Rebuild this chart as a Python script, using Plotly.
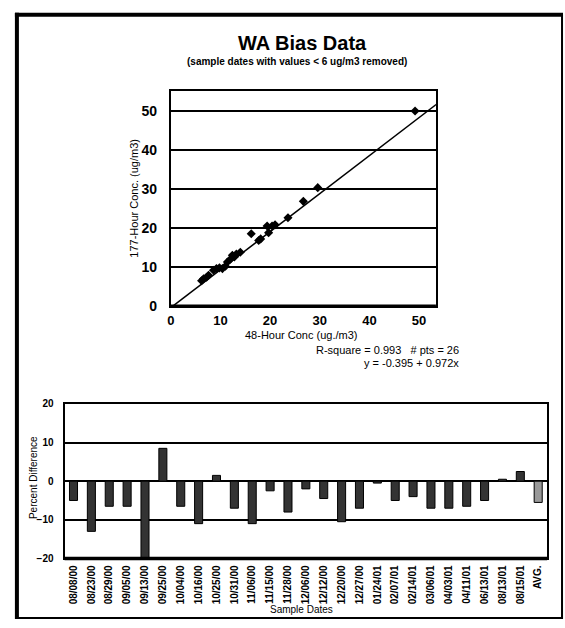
import plotly.graph_objects as go

W, H = 565, 628

# 48-hour vs 177-hour concentrations (ug/m3)
conc_48h = [6.2, 6.6, 7.2, 7.6, 8.6, 9.2, 9.8, 10.4, 11.0, 11.4, 12.0, 12.4, 12.8,
            13.2, 14.0, 16.2, 17.7, 18.1, 19.4, 19.7, 20.4, 21.0, 23.6, 26.7, 29.6, 49.2]
conc_177h = [6.5, 7.0, 7.4, 7.9, 9.2, 9.6, 9.8, 9.6, 10.2, 11.3, 12.0, 13.0, 12.6,
             13.3, 13.8, 18.5, 16.8, 17.2, 20.5, 18.8, 20.5, 20.8, 22.6, 26.8, 30.3, 49.9]

# Regression fit
fit_intercept = -0.395
fit_slope = 0.972
fit_x = [0.4, 54.5]

# Percent difference per sample date
sample_dates = ["08/08/00", "08/23/00", "08/29/00", "09/05/00", "09/13/00", "09/25/00",
                "10/04/00", "10/16/00", "10/25/00", "10/31/00", "11/06/00", "11/15/00",
                "11/28/00", "12/06/00", "12/12/00", "12/20/00", "12/27/00", "01/24/01",
                "02/07/01", "02/14/01", "03/06/01", "04/03/01", "04/11/01", "06/13/01",
                "08/13/01", "08/15/01", "AVG."]
pct_diff = [-5.0, -13.0, -6.5, -6.5, -20.0, 8.5, -6.5, -11.0, 1.5, -7.0, -11.0, -2.5,
            -8.0, -2.0, -4.5, -10.5, -7.0, -0.5, -5.0, -4.0, -7.0, -7.0, -6.5, -5.0,
            0.5, 2.5, -5.5]

FONT = "Liberation Sans, Arial, sans-serif"

def px(x):
    return x / W

def py(y):
    return 1 - y / H

fig = go.Figure()

fig.add_trace(go.Scatter(
    x=conc_48h, y=conc_177h, mode="markers",
    marker=dict(symbol="diamond", size=7, color="black"),
    xaxis="x", yaxis="y", showlegend=False, cliponaxis=False))

fig.add_trace(go.Scatter(
    x=fit_x, y=[fit_intercept + fit_slope * v for v in fit_x], mode="lines",
    line=dict(color="black", width=1.5),
    xaxis="x", yaxis="y", showlegend=False))

bar_colors = ["#333333"] * (len(sample_dates) - 1) + ["#999999"]
fig.add_trace(go.Bar(
    x=sample_dates, y=pct_diff, width=0.45,
    marker=dict(color=bar_colors, line=dict(color="black", width=1)),
    xaxis="x2", yaxis="y2", showlegend=False))

sc_x0, sc_x1, sc_y0, sc_y1 = 168, 435, 307, 87
br_x0, br_x1, br_y0, br_y1 = 61, 547, 565, 407

fig.update_layout(
    width=W, height=H, margin=dict(l=0, r=0, t=0, b=0),
    paper_bgcolor="white", plot_bgcolor="white",
    font=dict(family=FONT, color="black"),
    xaxis=dict(domain=[px(sc_x0), px(sc_x1)], range=[0, 53.4],
               tickvals=[0, 10, 20, 30, 40, 50], showgrid=False, zeroline=False,
               showline=True, mirror=True, linecolor="black", linewidth=2,
               ticks="", ticklabelstandoff=1,
               tickfont=dict(size=13, family=FONT, weight="bold"),
               anchor="y"),
    yaxis=dict(domain=[py(sc_y0), py(sc_y1)], range=[0, 55],
               tickvals=[0, 10, 20, 30, 40, 50], showgrid=True, gridcolor="black",
               gridwidth=2, zeroline=False,
               showline=True, mirror=True, linecolor="black", linewidth=2,
               ticks="", ticklabelstandoff=9,
               tickfont=dict(size=14, family=FONT, weight="bold"),
               anchor="x"),
    xaxis2=dict(domain=[px(br_x0), px(br_x1)], type="category",
                showgrid=False, zeroline=False,
                showline=True, mirror=True, linecolor="black", linewidth=2,
                ticks="", tickangle=-90, ticklabelstandoff=1,
                tickfont=dict(size=10, family=FONT, weight="bold"),
                anchor="y2"),
    yaxis2=dict(domain=[py(br_y0), py(br_y1)], range=[-20, 20],
                tickvals=[-20, -10, 0, 10, 20], showgrid=True, gridcolor="black",
                gridwidth=2, zeroline=True, zerolinecolor="black", zerolinewidth=2,
                showline=True, mirror=True, linecolor="black", linewidth=2,
                ticks="", ticklabelstandoff=7,
                tickfont=dict(size=10, family=FONT, weight="bold"),
                anchor="x2"),
)

shapes = [
    # heavier bottom axis lines
    dict(type="line", xref="paper", yref="paper", x0=px(sc_x0), x1=px(sc_x1),
         y0=py(sc_y0), y1=py(sc_y0), line=dict(color="black", width=3.5)),
    dict(type="line", xref="paper", yref="paper", x0=px(br_x0), x1=px(br_x1),
         y0=py(br_y0), y1=py(br_y0), line=dict(color="black", width=3.5)),
    # page frame
    dict(type="line", xref="paper", yref="paper", x0=px(13), x1=px(13),
         y0=py(7), y1=py(627), line=dict(color="black", width=4)),
    dict(type="line", xref="paper", yref="paper", x0=px(11), x1=px(563),
         y0=py(9), y1=py(9), line=dict(color="black", width=4)),
    dict(type="line", xref="paper", yref="paper", x0=px(562), x1=px(562),
         y0=py(9), y1=py(627), line=dict(color="black", width=2)),
    dict(type="line", xref="paper", yref="paper", x0=px(13), x1=px(563),
         y0=py(626), y1=py(626), line=dict(color="black", width=2)),
]
fig.update_layout(shapes=shapes)

def label(text, x, y, size, xanchor="center", angle=0):
    return dict(text=text, x=px(x), y=py(y), xref="paper", yref="paper",
                showarrow=False, font=dict(size=size, family=FONT),
                xanchor=xanchor, yanchor="middle", textangle=angle)

annotations = [
    label("<b>WA Bias Data</b>", 301, 38, 20),
    label("<b>(sample dates with values < 6 ug/m3 removed)</b>", 295, 57, 10),
    label("177-Hour Conc. (ug/m3)", 131, 197, 11, angle=-90),
    label("48-Hour Conc (ug./m3)", 300, 337, 11),
    label("R-square = %.3f   # pts = %d" % (0.993, len(conc_48h)), 460, 352, 11, "right"),
    label("y = %.3f + %.3fx" % (fit_intercept, fit_slope), 460, 365, 11, "right"),
    label("Percent Difference", 29, 482, 10, angle=-90),
    label("Sample Dates", 300, 617, 10),
]
fig.update_layout(annotations=annotations)

fig.write_html("out.html")
